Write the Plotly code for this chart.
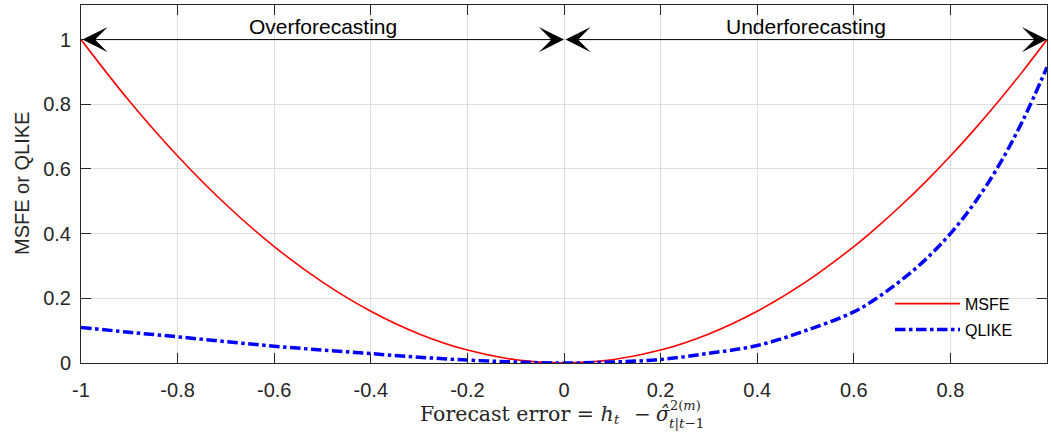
import plotly.graph_objects as go

# Forecast error grid (x) and loss values
forecast_error = [-1.0, -0.9, -0.8, -0.7, -0.6, -0.5, -0.4, -0.3, -0.2, -0.1, 0.0,
                  0.1, 0.2, 0.3, 0.4, 0.5, 0.6, 0.65, 0.7, 0.75, 0.8, 0.85, 0.9, 0.95, 1.0]
msfe = [1.0, 0.81, 0.64, 0.49, 0.36, 0.25, 0.16, 0.09, 0.04, 0.01, 0.0,
        0.01, 0.04, 0.09, 0.16, 0.25, 0.36, 0.4225, 0.49, 0.5625, 0.64, 0.7225, 0.81, 0.9025, 1.0]
qlike = [0.110, 0.095, 0.081, 0.066, 0.052, 0.040, 0.029, 0.018, 0.009, 0.003, 0.0,
         0.003, 0.011, 0.030, 0.054, 0.100, 0.158, 0.203, 0.258, 0.322, 0.400, 0.495, 0.610, 0.750, 0.915]

x_tickvals = [-1, -0.8, -0.6, -0.4, -0.2, 0, 0.2, 0.4, 0.6, 0.8, 1]
x_ticktext = ["-1", "-0.8", "-0.6", "-0.4", "-0.2", "0", "0.2", "0.4", "0.6", "0.8", "1"]
y_tickvals = [0, 0.2, 0.4, 0.6, 0.8, 1]
y_ticktext = ["0", "0.2", "0.4", "0.6", "0.8", "1"]

region_labels = ["Overforecasting", "Underforecasting"]
region_centers = [-0.5, 0.5]
region_spans = [(-1, 0), (0, 1)]

AX = "#262626"
GRID = "#dfdfdf"
SANS = "Liberation Sans, Arial, sans-serif"
SERIF = "DejaVu Serif, Liberation Serif, serif"

W, H = 1051, 437
L, R, T, B = 81, 4, 5, 74
PW, PH = W - L - R, H - T - B


def px(xp):
    return (xp - L) / PW


def py(yp):
    return (H - B - yp) / PH


fig = go.Figure()
fig.add_trace(go.Scatter(
    x=forecast_error, y=msfe, name="MSFE", mode="lines",
    line=dict(color="#ff0000", width=1.6, shape="spline", smoothing=1.0),
    legendgroup="a"))
fig.add_trace(go.Scatter(
    x=forecast_error, y=qlike, name="QLIKE", mode="lines",
    line=dict(color="#0000ff", width=3.5, dash="dashdot", shape="spline", smoothing=1.0),
    legendgroup="b"))

axis_common = dict(
    showline=True, linecolor=AX, linewidth=1, mirror="ticks",
    ticks="inside", ticklen=10, tickwidth=1, tickcolor=AX,
    showgrid=True, gridcolor=GRID, gridwidth=1, zeroline=False,
    tickfont=dict(family=SANS, size=20, color=AX), automargin=False,
)

fig.update_xaxes(range=[-1, 1], tickvals=x_tickvals, ticktext=x_ticktext,
                 ticklabelstandoff=9, **axis_common)
fig.update_yaxes(range=[0, 1.107], tickvals=y_tickvals, ticktext=y_ticktext,
                 ticklabelstandoff=5, **axis_common)

annotations = []
for lab, cx, (a, b) in zip(region_labels, region_centers, region_spans):
    annotations.append(dict(x=cx, y=1.04, xref="x", yref="y", text=lab, showarrow=False,
                            font=dict(family=SANS, size=21, color="#000000")))
    annotations.append(dict(x=b, y=1, ax=a, ay=1, xref="x", yref="y", axref="x", ayref="y",
                            text="", showarrow=True, arrowside="end+start",
                            arrowhead=3, startarrowhead=3, arrowsize=4.2, startarrowsize=4.2,
                            arrowwidth=1, arrowcolor="#000000"))

# y-axis title
annotations.append(dict(x=px(22), y=0.5, xref="paper", yref="paper", textangle=-90,
                        xanchor="center", yanchor="middle",
                        text="MSFE or QLIKE", showarrow=False,
                        font=dict(family=SANS, size=20, color=AX)))


# x-axis title (math-style) built from text pieces
def piece(text, x, y, size, anchor="left"):
    annotations.append(dict(x=px(x), y=py(y), xref="paper", yref="paper",
                            xanchor=anchor, yanchor="middle", text=text, showarrow=False,
                            font=dict(family=SERIF, size=size, color=AX)))


piece("Forecast error = <i>h</i>", 616, 414, 20.5, "right")
piece("<i>t</i>", 612, 419, 13, "left")
piece("−", 642, 414, 20, "center")
piece("<i>σ̂</i>", 654, 414, 20, "left")
piece("2(<i>m</i>)", 668, 405, 13, "left")
piece("<i>t</i>|<i>t</i>−1", 667, 423, 13.5, "left")

fig.update_layout(
    width=W, height=H,
    margin=dict(l=L, r=R, t=T, b=B, autoexpand=False),
    paper_bgcolor="white", plot_bgcolor="white",
    annotations=annotations,
    showlegend=True,
    legend=dict(x=0.8375, y=0.213, xanchor="left", yanchor="top",
                bgcolor="rgba(0,0,0,0)", borderwidth=0, itemwidth=65,
                tracegroupgap=2,
                font=dict(family=SANS, size=16, color="#000000")),
)

fig.write_html("out.html", config={"displayModeBar": False},
               post_script="document.body.style.margin='0';document.documentElement.style.overflow='hidden';")
